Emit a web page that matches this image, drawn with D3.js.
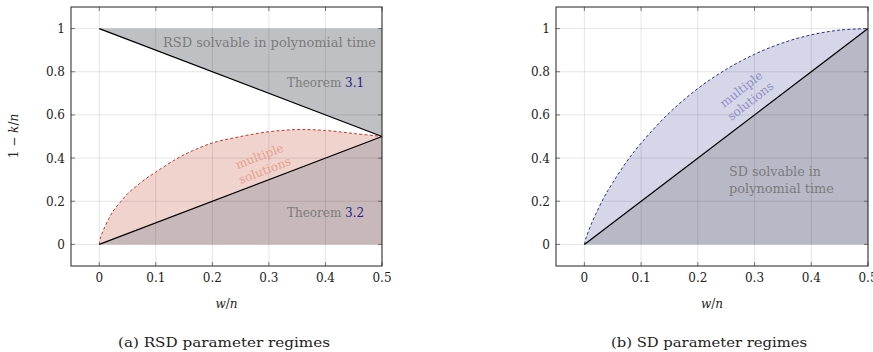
<!DOCTYPE html>
<html>
<head>
<meta charset="utf-8">
<script src="https://cdn.jsdelivr.net/npm/d3@7"></script>
<style>
  body { margin: 0; background: #fff; }
</style>
</head>
<body>
<svg id="chart" width="873" height="352" font-family="'DejaVu Serif', 'Liberation Serif', serif"></svg>
<script>
// tick values
const xTicks = [0, 0.1, 0.2, 0.3, 0.4, 0.5];
const yTicks = [0, 0.2, 0.4, 0.6, 0.8, 1];

// RSD panel: "multiple solutions" boundary
const rsdCurveX = [0, 0.002, 0.0064, 0.017, 0.026, 0.038, 0.05, 0.065, 0.08, 0.1, 0.135, 0.165, 0.2, 0.25, 0.3, 0.35, 0.4, 0.45, 0.5];
const rsdCurveY = [0, 0.03, 0.06, 0.12, 0.16, 0.198, 0.235, 0.268, 0.30, 0.335, 0.394, 0.434, 0.47, 0.50, 0.522, 0.532, 0.528, 0.514, 0.5];
// RSD straight boundaries
const rsdUpperX = [0, 0.5];
const rsdUpperY = [1, 0.5];
const rsdLowerX = [0, 0.5];
const rsdLowerY = [0, 0.5];

// SD panel: "multiple solutions" boundary
const sdCurveX = [0, 0.003, 0.01, 0.02, 0.035, 0.05, 0.075, 0.1, 0.15, 0.2, 0.25, 0.3, 0.35, 0.4, 0.45, 0.5];
const sdCurveY = [0, 0.03, 0.08, 0.14, 0.22, 0.286, 0.385, 0.469, 0.61, 0.722, 0.811, 0.881, 0.934, 0.971, 0.993, 1];
const sdLineX = [0, 0.5];
const sdLineY = [0, 1];

const xDomain = [-0.05, 0.5];
const yDomain = [-0.1, 1.1];

const svg = d3.select('#chart');
const zip = (xs, ys) => xs.map((x, i) => [x, ys[i]]);

function panel(left, right, opts){
    const x = d3.scaleLinear().domain(xDomain).range([left, right]);
    const y = d3.scaleLinear().domain(yDomain).range([266, 7]);
    const g = svg.append('g');

    const area = d3.area().x(d => x(d[0])).y0(d => y(d[1])).y1(d => y(d[2])).curve(d3.curveCatmullRom.alpha(0.5));
    const line = d3.line().x(d => x(d[0])).y(d => y(d[1])).curve(d3.curveCatmullRom.alpha(0.5));

    // fills
    opts.fills.forEach(f => {
        g.append('path').attr('d', area(f.data)).attr('fill', f.color);
    });

    // grid on top of fills (shows through)
    const grid = g.append('g').attr('stroke', 'rgba(0,0,0,0.10)').attr('stroke-width', 1);
    xTicks.forEach(t => grid.append('line')
        .attr('x1', x(t)).attr('x2', x(t)).attr('y1', y(yDomain[0])).attr('y2', y(yDomain[1])));
    yTicks.forEach(t => grid.append('line')
        .attr('x1', x(xDomain[0])).attr('x2', x(xDomain[1])).attr('y1', y(t)).attr('y2', y(t)));

    // curves
    opts.lines.forEach(l => {
        g.append('path').attr('d', line(l.data))
            .attr('fill', 'none')
            .attr('stroke', l.color)
            .attr('stroke-width', l.width)
            .attr('stroke-dasharray', l.dash || null);
    });

    // inward ticks on all four sides
    const tk = g.append('g').attr('stroke', '#555').attr('stroke-width', 0.8);
    xTicks.forEach(t => {
        tk.append('line').attr('x1', x(t)).attr('x2', x(t)).attr('y1', 266).attr('y2', 262);
        tk.append('line').attr('x1', x(t)).attr('x2', x(t)).attr('y1', 7).attr('y2', 11);
    });
    yTicks.forEach(t => {
        tk.append('line').attr('x1', left).attr('x2', left + 4).attr('y1', y(t)).attr('y2', y(t));
        tk.append('line').attr('x1', right).attr('x2', right - 4).attr('y1', y(t)).attr('y2', y(t));
    });

    // frame
    g.append('rect')
        .attr('x', left).attr('y', 7)
        .attr('width', right - left).attr('height', 259)
        .attr('fill', 'none').attr('stroke', '#222').attr('stroke-width', 1);

    // tick labels
    const fmt = d => d === 0 || d === 1 ? String(d) : d3.format('.1f')(d);
    xTicks.forEach(t => g.append('text')
        .attr('x', x(t)).attr('y', 282)
        .attr('text-anchor', 'middle').attr('font-size', 12).attr('fill', '#222')
        .text(fmt(t)));
    yTicks.forEach(t => g.append('text')
        .attr('x', left - 6).attr('y', y(t) + 4.5)
        .attr('text-anchor', 'end').attr('font-size', 12).attr('fill', '#222')
        .text(fmt(t)));

    // x label
    const xl = g.append('text')
        .attr('x', (left + right) / 2).attr('y', 308)
        .attr('text-anchor', 'middle').attr('font-size', 12).attr('fill', '#222');
    xl.append('tspan').attr('font-style', 'italic').text('w');
    xl.append('tspan').text('/');
    xl.append('tspan').attr('font-style', 'italic').text('n');

    // caption
    g.append('text')
        .attr('x', opts.capX).attr('y', 347)
        .attr('font-size', 13.5).attr('fill', '#222')
        .attr('textLength', opts.capW).attr('lengthAdjust', 'spacingAndGlyphs')
        .text(opts.caption);

    return {x, y, g};
}

// ---- panel (a) ----
const rsdCurve = zip(rsdCurveX, rsdCurveY);
const a = panel(71, 382, {
    caption: '(a) RSD parameter regimes', capX: 118, capW: 212,
    fills: [
        // pink between curve and lower line
        {color: '#f1d3ce', data: rsdCurve.map(d => [d[0], d[1], d[0]])},
        // region below lower line
        {color: '#c9b8b9', data: zip(rsdLowerX, rsdLowerY).map(d => [d[0], 0, d[1]])},
        // region above upper line
        {color: '#bfc0c3', data: zip(rsdUpperX, rsdUpperY).map(d => [d[0], 1, d[1]])}
    ],
    lines: [
        {data: rsdCurve, color: '#c0392b', width: 1, dash: '3,2.2'},
        {data: zip(rsdUpperX, rsdUpperY), color: '#000', width: 1.3},
        {data: zip(rsdLowerX, rsdLowerY), color: '#000', width: 1.3}
    ]
});

// y label (left panel only)
const yl = svg.append('text')
    .attr('transform', 'translate(18,136) rotate(-90)')
    .attr('text-anchor', 'middle').attr('font-size', 12).attr('fill', '#222');
yl.append('tspan').text('1 − ');
yl.append('tspan').attr('font-style', 'italic').text('k');
yl.append('tspan').text('/');
yl.append('tspan').attr('font-style', 'italic').text('n');

// annotations (a)
a.g.append('text')
    .attr('x', 376).attr('y', 47).attr('text-anchor', 'end')
    .attr('font-size', 12).attr('fill', '#7b7b7d')
    .attr('textLength', 213).attr('lengthAdjust', 'spacingAndGlyphs')
    .text('RSD solvable in polynomial time');
[['3.1', 87], ['3.2', 217]].forEach(([num, yy]) => {
    const t = a.g.append('text').attr('x', 287).attr('y', yy)
        .attr('font-size', 12).attr('fill', '#7b7b7d');
    t.append('tspan').text('Theorem ');
    t.append('tspan').attr('fill', '#23238f').text(num);
});
const ma = a.g.append('g').attr('transform', 'translate(262,163) rotate(-21)')
    .attr('font-size', 12).attr('fill', '#e3a18f').attr('text-anchor', 'middle');
ma.append('text').attr('x', 0).attr('y', -3).text('multiple');
ma.append('text').attr('x', 0).attr('y', 12).text('solutions');

// ---- panel (b) ----
const sdCurve = zip(sdCurveX, sdCurveY);
const b = panel(556, 868, {
    caption: '(b) SD parameter regimes', capX: 611, capW: 196,
    fills: [
        {color: '#d5d6e8', data: sdCurve.map(d => [d[0], d[1], d[0] * 2])},
        {color: '#b8b9c6', data: zip(sdLineX, sdLineY).map(d => [d[0], 0, d[1]])}
    ],
    lines: [
        {data: sdCurve, color: '#2e2e8c', width: 1, dash: '3,2.2'},
        {data: zip(sdLineX, sdLineY), color: '#000', width: 1.3}
    ]
});

const mb = b.g.append('g').attr('transform', 'translate(745,94) rotate(-38)')
    .attr('font-size', 12).attr('fill', '#8f90c6').attr('text-anchor', 'middle');
mb.append('text').attr('x', 0).attr('y', -2).text('multiple');
mb.append('text').attr('x', 0).attr('y', 13).text('solutions');

const sdt = b.g.append('g').attr('font-size', 13).attr('fill', '#7b7b7d');
sdt.append('text').attr('x', 729).attr('y', 176)
    .attr('textLength', 92).attr('lengthAdjust', 'spacingAndGlyphs').text('SD solvable in');
sdt.append('text').attr('x', 729).attr('y', 193)
    .attr('textLength', 105).attr('lengthAdjust', 'spacingAndGlyphs').text('polynomial time');
</script>
</body>
</html>
